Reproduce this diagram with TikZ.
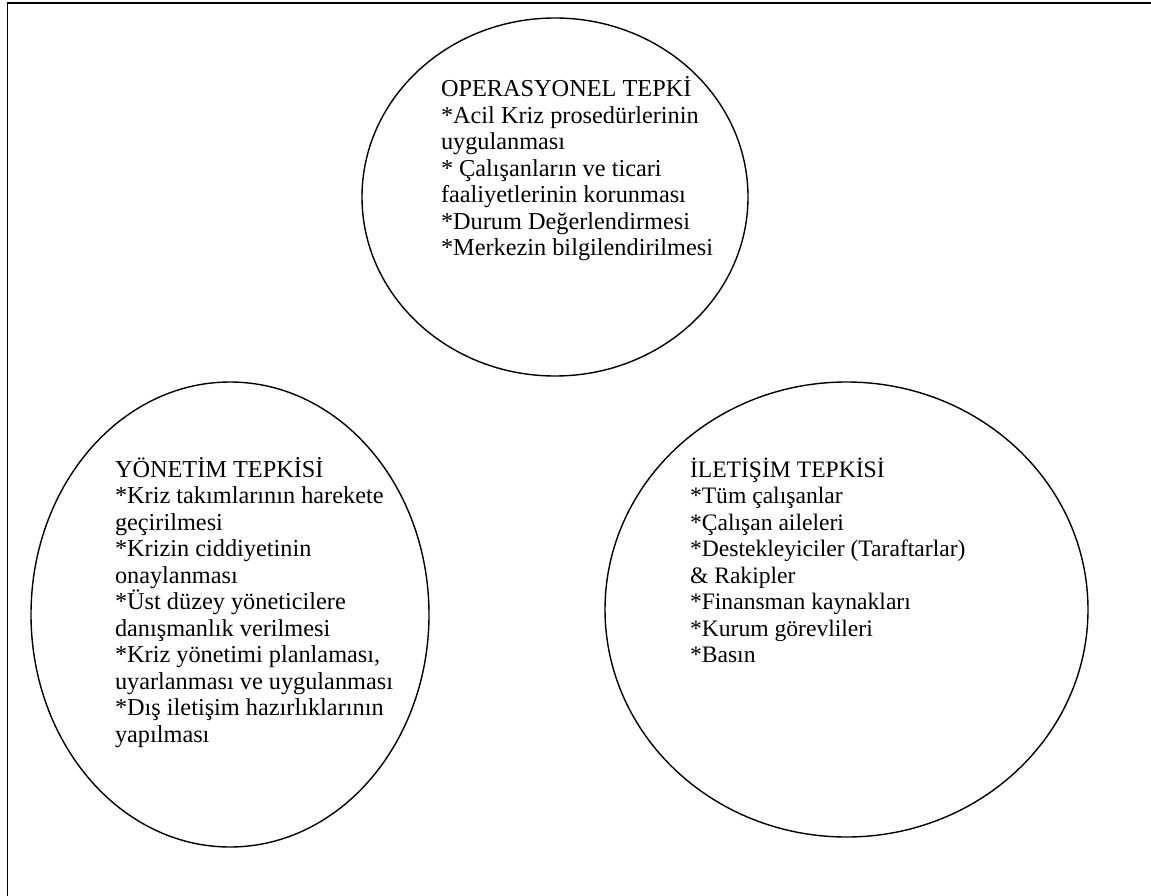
\documentclass[tikz,border=0pt]{standalone}
\usepackage{fontspec}
\setmainfont{Liberation Serif}
\usetikzlibrary{shapes.geometric}
% left-aligned list set on a fixed leading; the box's baseline is that of its first line
\newcommand{\bubbletext}[2][24.3]{\parbox[t]{340pt}{\raggedright\fontsize{#1}{26.5}\selectfont #2}}
\begin{document}
\begin{tikzpicture}[x=1pt,y=-1pt,
  bubble/.style={draw, ellipse, line width=1.4pt, inner sep=0pt},
  listing/.style={anchor=base west, inner sep=0pt, outer sep=0pt}]
  \useasboundingbox (0,0) rectangle (1151,896);
  \clip (0,0) rectangle (1151,896);
  % page frame (only its top and left sides fall inside the picture)
  \draw[line width=1.5pt] (7.5,3) -- (7.5,900);
  \draw[line width=2pt] (6.75,3.5) -- (1160,3.5);
  % the three response areas
  \node[bubble, minimum width=386pt, minimum height=358pt] (op) at (555,197) {};
  \node[bubble, minimum width=398pt, minimum height=465pt] (yon) at (230,614.5) {};
  \node[bubble, minimum width=483pt, minimum height=455pt] (ilt) at (846.5,609.5) {};
  % their contents
  \node[listing] (optext) at (441,97) {\bubbletext{OPERASYONEL TEPKİ\newline
    *Acil Kriz prosedürlerinin\newline
    uygulanması\newline
    * Çalışanların ve ticari\newline
    faaliyetlerinin korunması\newline
    *Durum Değerlendirmesi\newline
    *Merkezin bilgilendirilmesi}};
  \node[listing] (yontext) at (115,477) {\bubbletext{YÖNETİM TEPKİSİ\newline
    *Kriz takımlarının harekete\newline
    geçirilmesi\newline
    *Krizin ciddiyetinin\newline
    onaylanması\newline
    *Üst düzey yöneticilere\newline
    danışmanlık verilmesi\newline
    *Kriz yönetimi planlaması,\newline
    uyarlanması ve uygulanması\newline
    *Dış iletişim hazırlıklarının\newline
    yapılması}};
  \node[listing] (ilttext) at (690,477) {\bubbletext[23.6]{İLETİŞİM TEPKİSİ\newline
    *Tüm çalışanlar\newline
    *Çalışan aileleri\newline
    *Destekleyiciler (Taraftarlar)\newline
    \& Rakipler\newline
    *Finansman kaynakları\newline
    *Kurum görevlileri\newline
    *Basın}};
\end{tikzpicture}
\end{document}
